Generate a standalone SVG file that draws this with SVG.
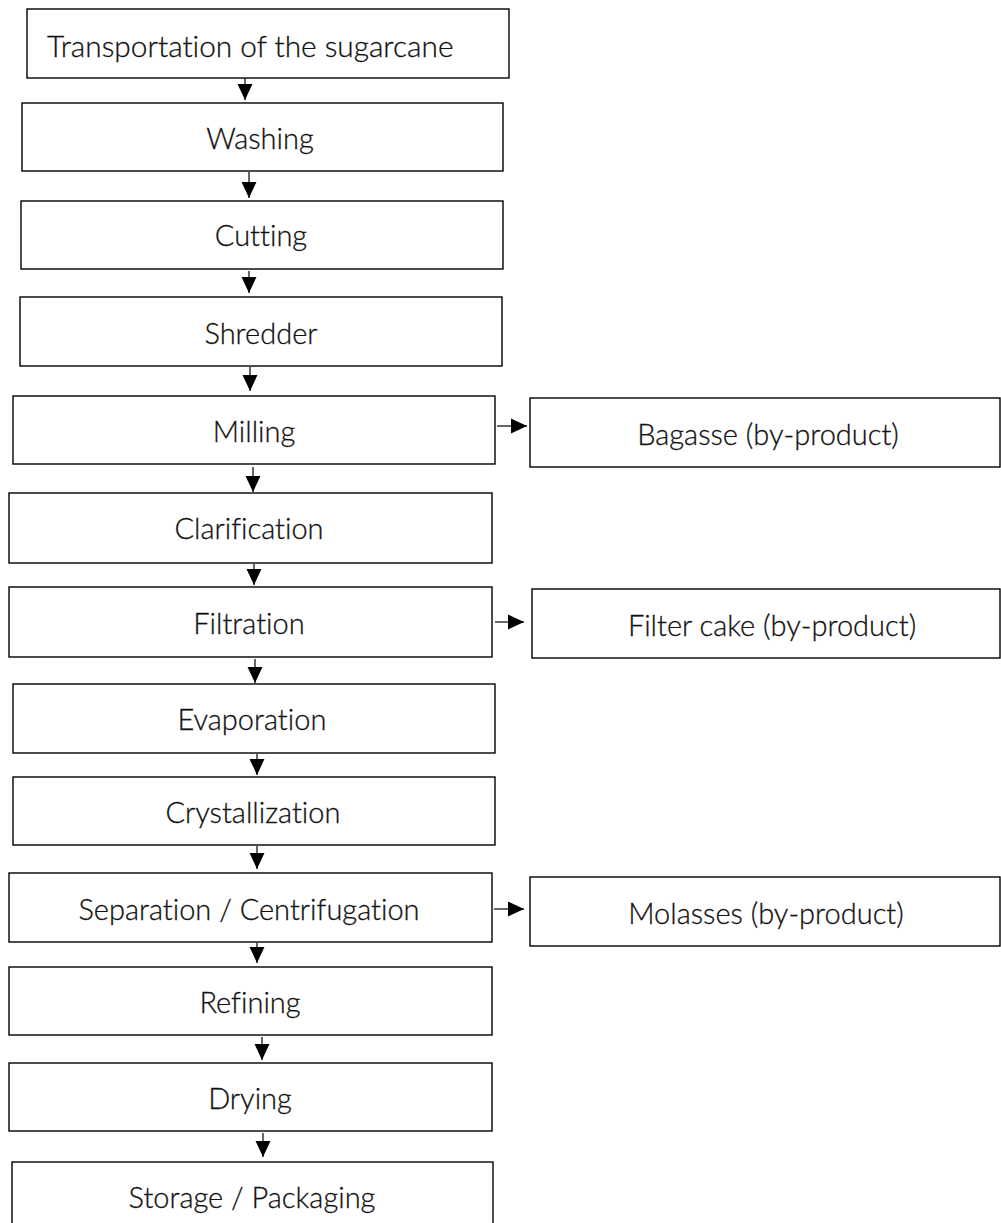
<svg xmlns="http://www.w3.org/2000/svg" width="1001" height="1223" viewBox="0 0 1001 1223">
<style>
.box{fill:#fff;stroke:#000;stroke-width:1.4}
.lbl{font-family:Lato,"Liberation Sans",sans-serif;font-size:29px;font-weight:300;font-variant-ligatures:none;fill:#111;stroke:#111;stroke-width:0.3;text-anchor:middle}
.cn{stroke:#000;stroke-width:1.2;fill:none;marker-end:url(#ah)}
</style>
<defs>
<marker id="ah" markerUnits="userSpaceOnUse" markerWidth="16" markerHeight="16" viewBox="0 0 15 14" refX="15" refY="7" orient="auto">
<path d="M0,0 L15,7 L0,14 Z" fill="#000"/>
</marker>
</defs>
<rect width="1001" height="1223" fill="#fff"/>
<g id="connectors">
<line class="cn" x1="245" y1="78" x2="245" y2="100"/>
<line class="cn" x1="249" y1="172" x2="249" y2="198"/>
<line class="cn" x1="249" y1="271" x2="249" y2="293"/>
<line class="cn" x1="250" y1="367" x2="250" y2="391"/>
<line class="cn" x1="253" y1="467" x2="253" y2="492"/>
<line class="cn" x1="254" y1="564" x2="254" y2="585"/>
<line class="cn" x1="255" y1="659" x2="255" y2="683"/>
<line class="cn" x1="257" y1="754" x2="257" y2="775"/>
<line class="cn" x1="257" y1="846" x2="257" y2="869"/>
<line class="cn" x1="257" y1="943" x2="257" y2="963"/>
<line class="cn" x1="262" y1="1037" x2="262" y2="1060"/>
<line class="cn" x1="263" y1="1133" x2="263" y2="1157"/>
<line class="cn" x1="497" y1="426" x2="527" y2="426"/>
<line class="cn" x1="495" y1="622" x2="524" y2="622"/>
<line class="cn" x1="494" y1="909" x2="524" y2="909"/>
</g>
<g id="n1"><rect class="box" x="27" y="9" width="482" height="69"/><text class="lbl" x="47" y="57" style="text-anchor:start;font-size:29.8px">Transportation of the sugarcane</text></g>
<g id="n2"><rect class="box" x="22" y="103" width="481" height="68"/><text class="lbl" x="260" y="149">Washing</text></g>
<g id="n3"><rect class="box" x="21" y="201" width="482" height="68"/><text class="lbl" x="261" y="246">Cutting</text></g>
<g id="n4"><rect class="box" x="20" y="297" width="482" height="69"/><text class="lbl" x="261" y="344">Shredder</text></g>
<g id="n5"><rect class="box" x="13" y="396" width="482" height="68"/><text class="lbl" x="254" y="442">Milling</text></g>
<g id="n6"><rect class="box" x="530" y="398" width="470" height="69"/><text class="lbl" x="768" y="445">Bagasse (by-product)</text></g>
<g id="n7"><rect class="box" x="9" y="493" width="483" height="70"/><text class="lbl" x="249" y="539">Clarification</text></g>
<g id="n8"><rect class="box" x="9" y="587" width="483" height="70"/><text class="lbl" x="249" y="634">Filtration</text></g>
<g id="n9"><rect class="box" x="532" y="589" width="468" height="69"/><text class="lbl" x="772" y="636">Filter cake (by-product)</text></g>
<g id="n10"><rect class="box" x="13" y="684" width="482" height="69"/><text class="lbl" x="252" y="730">Evaporation</text></g>
<g id="n11"><rect class="box" x="13" y="777" width="482" height="68"/><text class="lbl" x="253" y="823">Crystallization</text></g>
<g id="n12"><rect class="box" x="9" y="873" width="483" height="69"/><text class="lbl" x="249" y="920">Separation / Centrifugation</text></g>
<g id="n13"><rect class="box" x="530" y="877" width="470" height="69"/><text class="lbl" x="766" y="924">Molasses (by-product)</text></g>
<g id="n14"><rect class="box" x="9" y="967" width="483" height="68"/><text class="lbl" x="250" y="1013">Refining</text></g>
<g id="n15"><rect class="box" x="9" y="1063" width="483" height="68"/><text class="lbl" x="250" y="1109">Drying</text></g>
<g id="n16"><rect class="box" x="12" y="1162" width="481" height="70"/><text class="lbl" x="252" y="1208">Storage / Packaging</text></g>
</svg>
